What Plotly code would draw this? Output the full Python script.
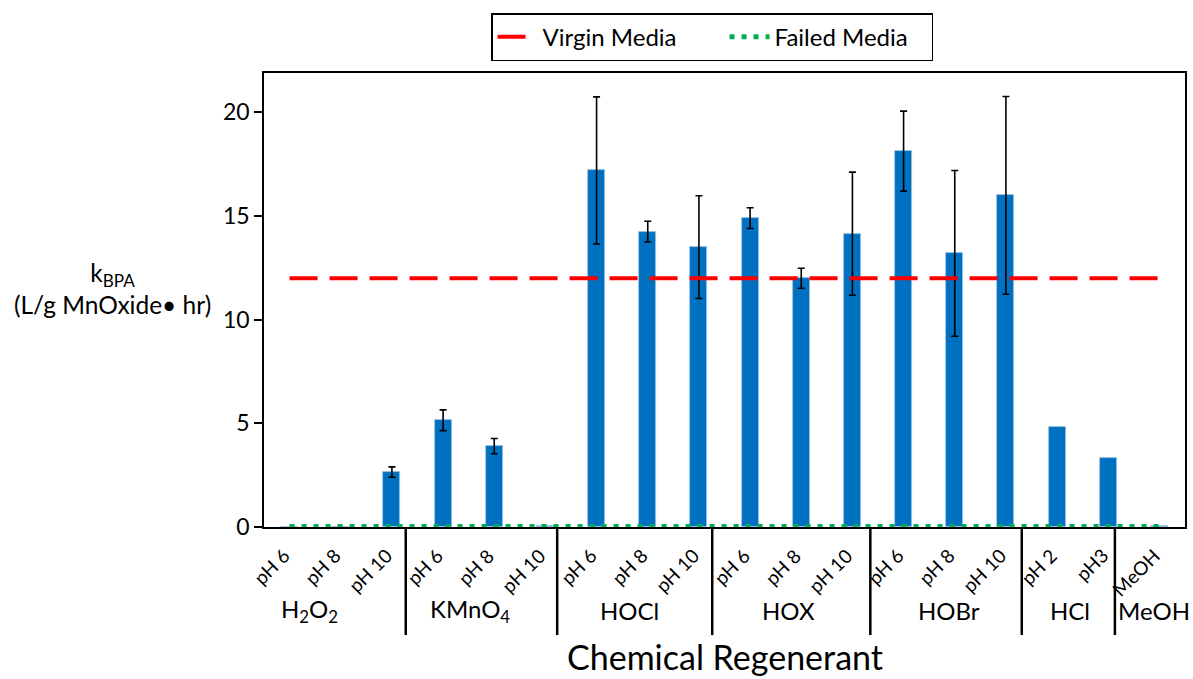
import plotly.graph_objects as go

# Regenerant / pH conditions along the category axis
groups = ["H<sub>2</sub>O<sub>2</sub>", "KMnO<sub>4</sub>", "HOCl", "HOX", "HOBr", "HCl", "MeOH"]
ph_labels = ["pH 6", "pH 8", "pH 10",
             "pH 6", "pH 8", "pH 10",
             "pH 6", "pH 8", "pH 10",
             "pH 6", "pH 8", "pH 10",
             "pH 6", "pH 8", "pH 10",
             "pH 2", "pH3",
             "MeOH"]
group_of = ["H2O2"] * 3 + ["KMnO4"] * 3 + ["HOCl"] * 3 + ["HOX"] * 3 + ["HOBr"] * 3 + ["HCl"] * 2 + ["MeOH"]
categories = [f"{g} {p}" for g, p in zip(group_of, ph_labels)]

# Pseudo-first-order BPA rate constants and standard deviations
k_bpa = [0.0, 0.0, 2.65,
         5.15, 3.9, 0.05,
         17.2, 14.25, 13.5,
         14.9, 12.0, 14.15,
         18.13, 13.2, 16.0,
         4.8, 3.35,
         0.05]
k_err = [None, None, 0.25,
         0.5, 0.37, None,
         3.55, 0.5, 2.48,
         0.5, 0.48, 2.97,
         1.93, 4.0, 4.77,
         None, None,
         None]

# Reference rate constants
virgin_k = 12.0
failed_k = 0.03

FONT = "Lato"

fig = go.Figure()

fig.add_trace(go.Bar(
    x=categories, y=k_bpa,
    width=0.33,
    marker=dict(color="#0070C0", line=dict(color="#9DC3E6", width=0.8)),
    showlegend=False,
))

# Error bars only where a standard deviation was measured
err_pts = [k if e is not None else None for k, e in zip(k_bpa, k_err)]
fig.add_trace(go.Scatter(
    x=categories, y=err_pts, mode="markers",
    marker=dict(size=1, color="rgba(0,0,0,0)"),
    error_y=dict(type="data", array=[e if e is not None else 0 for e in k_err],
                 visible=True, color="black", thickness=1.6, width=3.5),
    showlegend=False, hoverinfo="skip",
))

fig.add_trace(go.Scatter(
    x=[categories[0], categories[-1]], y=[virgin_k, virgin_k],
    mode="lines", name="Virgin Media\u00a0\u00a0\u00a0\u00a0\u00a0\u00a0\u00a0",
    line=dict(color="#FF0000", width=4, dash="28px,12px"),
))
fig.add_trace(go.Scatter(
    x=[categories[0], categories[-1]], y=[failed_k, failed_k],
    mode="lines", name="Failed Media\u00a0\u00a0\u00a0",
    line=dict(color="#00B050", width=5, dash="5px,7px"),
))

annotations = []

# Rotated condition labels under each bar
for cat, lab in zip(categories, ph_labels):
    annotations.append(dict(
        x=cat, xref="x", y=0, yref="paper",
        text=lab, showarrow=False, textangle=-45,
        xanchor="right", yanchor="top", xshift=7, yshift=-14,
        font=dict(family=FONT, size=19, color="black"),
    ))

# Regenerant group labels and the divider lines between groups
group_x = [0.38, 3.52, 6.64, 9.76, 12.88, 15.26, 16.9]
for gx, g in zip(group_x, groups):
    annotations.append(dict(
        x=gx, xref="x", y=-0.183, yref="paper",
        text=g, showarrow=False, xanchor="center", yanchor="middle",
        font=dict(family=FONT, size=24, color="black"),
    ))

divider_x = [2.27, 5.23, 8.26, 11.35, 14.31, 16.13]
shapes = [dict(type="line", xref="x", yref="paper", x0=d, x1=d, y0=0, y1=-0.238,
               line=dict(color="black", width=2.5)) for d in divider_x]

# Axis titles
annotations.append(dict(
    x=0.5, xref="paper", y=-0.286, yref="paper",
    text="Chemical Regenerant", showarrow=False,
    xanchor="center", yanchor="middle",
    font=dict(family=FONT, size=34, color="black"),
))
annotations.append(dict(
    x=-0.165, xref="paper", y=0.525, yref="paper",
    text="k<sub>BPA</sub><br>(L/g MnOxide\u2022 hr)", showarrow=False,
    xanchor="center", yanchor="middle", align="center",
    font=dict(family=FONT, size=24.5, color="black"),
))

fig.update_layout(
    width=1193, height=679,
    margin=dict(l=264, r=6, t=73, b=152),
    paper_bgcolor="white", plot_bgcolor="white",
    font=dict(family=FONT, color="black"),
    xaxis=dict(
        type="category", categoryorder="array", categoryarray=categories,
        range=[-0.5, 17.5], showticklabels=False, ticks="",
        showline=True, linecolor="black", linewidth=1.5, mirror=True,
        showgrid=False, zeroline=False,
    ),
    yaxis=dict(
        range=[0, 21.9], tickvals=[0, 5, 10, 15, 20],
        ticks="outside", ticklen=8, tickcolor="black", tickwidth=1.5,
        tickfont=dict(family=FONT, size=23, color="black"),
        showline=True, linecolor="black", linewidth=1.5, mirror=True,
        showgrid=False, zeroline=False,
    ),
    legend=dict(
        orientation="h", x=0.4865, xanchor="center", y=1.132, yanchor="top",
        bordercolor="black", borderwidth=1.5, bgcolor="white",
        font=dict(family=FONT, size=24, color="black"),
        itemwidth=40,
    ),
    annotations=annotations,
    shapes=shapes,
    bargap=0.0,
)

fig.write_html("out.html")
